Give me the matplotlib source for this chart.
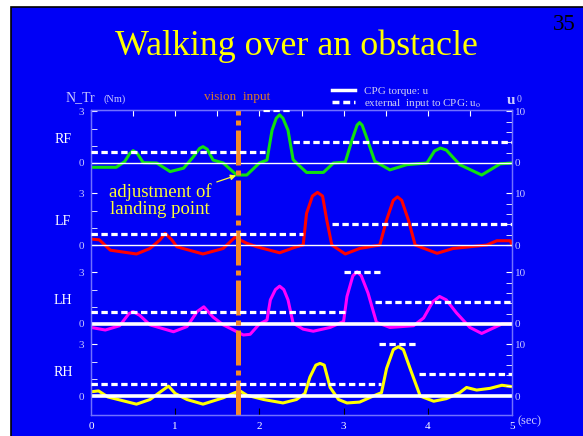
import matplotlib.pyplot as plt
import numpy as np
from matplotlib.patches import Rectangle
from matplotlib.lines import Line2D

plt.rcParams['font.family'] = ['Liberation Serif', 'DejaVu Serif']
plt.rcParams['mathtext.fontset'] = 'stix'

# --- data: N_Tr curves (Nm) vs time (sec) ---
rf_t = [0, 0.3, 0.4, 0.46, 0.5, 0.55, 0.62, 0.78, 0.94, 1.1, 1.21, 1.29, 1.33, 1.38, 1.45, 1.57,
        1.73, 1.85, 2.0, 2.09, 2.15, 2.2, 2.24, 2.28, 2.34, 2.40, 2.44, 2.56, 2.76, 2.88, 3.02, 3.1,
        3.16, 3.19, 3.22, 3.27, 3.37, 3.55, 3.75, 3.99, 4.08, 4.15, 4.22, 4.38, 4.64, 4.86, 5.0]
rf_v = [-0.25, -0.25, 0.08, 0.55, 0.72, 0.55, 0.02, 0, -0.5, -0.3, 0.33, 0.85, 0.95, 0.8, 0.17, 0,
        -0.7, -0.7, 0, 0.17, 1.9, 2.6, 2.8, 2.6, 1.9, 0.2, 0, -0.55, -0.55, 0, 0.05, 1.34,
        2.2, 2.35, 2.2, 1.53, 0.1, -0.4, -0.1, 0, 0.7, 0.87, 0.75, -0.1, -0.7, -0.05, 0]

lf_t = [0, 0.1, 0.23, 0.54, 0.7, 0.82, 0.88, 0.96, 1.02, 1.33, 1.57, 1.71, 1.85, 1.97, 2.24, 2.44,
        2.52, 2.56, 2.63, 2.69, 2.75, 2.8, 2.86, 3.02, 3.19, 3.43, 3.51, 3.59, 3.64, 3.69, 3.77, 3.85,
        4.11, 4.3, 4.7, 4.82, 4.98, 5.0]
lf_v = [0.35, 0.3, -0.3, -0.52, -0.2, 0.3, 0.68, 0.3, -0.1, -0.52, -0.2, 0.45, 0.1, -0.1, -0.45, -0.1,
        0, 1.84, 2.85, 3.06, 2.85, 1.45, 0, -0.52, -0.2, 0, 1.45, 2.6, 2.8, 2.6, 1.45, 0,
        -0.48, -0.2, 0, 0.25, 0.25, 0]

lh_t = [0, 0.17, 0.34, 0.45, 0.5, 0.58, 0.7, 0.98, 1.14, 1.26, 1.34, 1.45, 1.57, 1.81, 1.89, 2.0,
        2.09, 2.13, 2.19, 2.24, 2.29, 2.34, 2.4, 2.52, 2.64, 2.84, 3.0, 3.04, 3.11, 3.16, 3.21, 3.29,
        3.39, 3.55, 3.83, 3.95, 4.06, 4.14, 4.22, 4.34, 4.5, 4.64, 4.88, 5.0]
lh_v = [-0.2, -0.35, -0.1, 0.6, 0.72, 0.5, -0.05, -0.45, -0.15, 0.72, 1.0, 0.4, -0.05, -0.64, -0.6, 0,
        0.23, 1.4, 2.0, 2.2, 2.0, 1.4, 0.05, -0.3, -0.42, -0.2, 0.15, 1.6, 2.8, 3.04, 2.8, 1.8,
        0.1, -0.2, -0.1, 0.35, 1.3, 1.6, 1.4, 0.65, -0.2, -0.55, 0, 0]

rh_t = [0, 0.09, 0.2, 0.54, 0.7, 0.84, 0.92, 1.0, 1.14, 1.33, 1.57, 1.71, 1.77, 1.85, 2.05, 2.28,
        2.44, 2.54, 2.6, 2.67, 2.72, 2.77, 2.84, 2.94, 3.04, 3.19, 3.35, 3.45, 3.51, 3.59, 3.65, 3.71,
        3.79, 3.91, 4.07, 4.22, 4.38, 4.46, 4.58, 4.74, 4.88, 5.0]
rh_v = [0.25, 0.3, -0.05, -0.47, -0.2, 0.3, 0.58, 0.15, -0.2, -0.47, -0.1, 0.2, 0.3, 0.05, -0.2, -0.4,
        -0.2, 0.15, 1.1, 1.8, 1.9, 1.8, 0.5, -0.2, -0.4, -0.35, 0, 0.2, 1.6, 2.7, 2.87, 2.7,
        1.6, 0, -0.3, -0.15, 0.2, 0.5, 0.35, 0.45, 0.63, 0.55]

# external input u0 (right scale): (start, end, level)
rf_u0 = [(0, 2.07, 2.2), (2.04, 2.38, 10.3), (2.4, 5.0, 4.05)]
lf_u0 = [(0, 2.52, 2.15), (2.86, 5.0, 4.1)]
lh_u0 = [(0, 3.02, 2.3), (3.0, 3.43, 10.1), (3.37, 5.0, 4.25)]
rh_u0 = [(0, 3.45, 2.3), (3.42, 3.88, 10.1), (3.9, 5.0, 4.25)]

legs = ['RF', 'LF', 'LH', 'RH']
colors = ['#10e010', '#ff0000', '#ff00ff', '#ffff00']
offsets = [13.55, 8.78, 4.19, 0.0]   # vertical shift of each panel (Nm)
zero_lw = [1.0, 1.0, 2.6, 2.6]
curves = [(rf_t, rf_v), (lf_t, lf_v), (lh_t, lh_v), (rh_t, rh_v)]
inputs = [rf_u0, lf_u0, lh_u0, rh_u0]
vision_t = 1.74
k = 10 / 3   # u0 units per Nm

blue = '#0000f6'
spine_c = '#7070ff'
lab_c = '#c8c8ff'

fig = plt.figure(figsize=(5.83, 4.36), dpi=100)
fig.patch.set_facecolor('white')
fig.add_artist(Rectangle((11 / 583, -0.01), 1.0, 1 - 7 / 436 + 0.01, transform=fig.transFigure,
                         facecolor=blue, edgecolor='black', lw=1.2, zorder=0))

ax = fig.add_axes([91 / 583, 1 - 415 / 436, 421 / 583, 305 / 436])
ax.set_facecolor('none')
ax.set_xlim(0, 5)
ax.set_ylim(-1.10, 16.63)
ax2 = ax.twinx()
ax2.set_ylim(-1.10 * k, 16.63 * k)

for i in range(4):
    t, v = curves[i]
    ax.plot(t, np.array(v) + offsets[i], color=colors[i], lw=2.2, zorder=2)
    ax.axhline(offsets[i], color='white', lw=zero_lw[i], zorder=3)
    for s, e, lev in inputs[i]:
        ax2.hlines(lev + offsets[i] * k, s, e, color='white', lw=2.3,
                   linestyles=(0, (2.0, 1.1)), zorder=3)
    ax.text(-0.333, offsets[i] + 1.35, legs[i], color='white', fontsize=10,
            ha='center', va='center', clip_on=False)

ax.axvline(vision_t, color='#f28a2a', lw=3.6, ls=(0, (7, 1, 1, 1)), zorder=5)

ax.annotate('adjustment of\nlanding point', xy=(vision_t, offsets[0] - 0.7),
            xytext=(0.82, 11.35), color='#ffff33', fontsize=13.5, ha='center', va='center',
            linespacing=1.0,
            arrowprops=dict(arrowstyle='-|>', color='#ffff33', lw=0.9,
                            mutation_scale=8, shrinkA=2, shrinkB=1))

# axes cosmetics
for a in (ax, ax2):
    for sp in a.spines.values():
        sp.set_color(spine_c)
        sp.set_linewidth(0.9)

ax.set_yticks([o + d for o in offsets for d in (3, 0)])
ax.set_yticklabels(['3', '0'] * 4)
ax.set_yticks([o + d for o in offsets for d in (1, 2)], minor=True)
ax.tick_params(axis='y', which='both', direction='in', color='white', length=4,
               labelcolor=lab_c, labelsize=8, pad=5)

ax2.set_yticks([o * k + d for o in offsets for d in (10, 0)])
ax2.set_yticklabels(['10', '0'] * 4)
ax2.set_yticks([o * k + d for o in offsets for d in (2, 4, 6, 8)], minor=True)
ax2.tick_params(axis='y', which='both', direction='in', color='white', length=4,
                labelcolor=lab_c, labelsize=8, pad=2)

ax.set_xticks([0, 1, 2, 3, 4, 5])
ax.set_xticklabels(['0', '1', '2', '3', '4', '5'])
ax.tick_params(axis='x', direction='in', color='black', length=5, labelcolor='white',
               labelsize=8, pad=5)
top = ax.secondary_xaxis('top')
top.set_xticks(np.arange(0, 5.01, 0.5))
top.set_xticklabels([])
top.tick_params(direction='in', color='white', length=4)
top.spines['top'].set_color(spine_c)

ax.text(5.07, -1.10, '(sec)', color=lab_c, fontsize=9, ha='left', va='top',
        transform=ax.transData, clip_on=False)

# header texts
fig.text(296 / 583, 1 - 46 / 436, 'Walking over an obstacle', color='#ffff00', fontsize=25.8,
         ha='center', va='center')
fig.text(564 / 583, 1 - 25 / 436, '35', color='black', fontsize=16.5, ha='center', va='center')
fig.text(66 / 583, 1 - 98 / 436, 'N_Tr', color=lab_c, fontsize=10, va='center')
fig.text(104 / 583, 1 - 99 / 436, '(Nm)', color=lab_c, fontsize=7.5, va='center')
fig.text(237 / 583, 1 - 97 / 436, 'vision  input', color='#d8782c', fontsize=9.5,
         ha='center', va='center')
fig.text(507 / 583, 1 - 100 / 436, 'u', color=lab_c, fontsize=11, fontweight='bold', va='center')
fig.text(517 / 583, 1 - 100 / 436, '0', color=lab_c, fontsize=7, va='center')

handles = [Line2D([], [], color='white', lw=2.5),
           Line2D([], [], color='white', lw=2.5, ls=(0, (2.0, 1.1)))]
fig.legend(handles, ['CPG torque: u', r'external  input to CPG: u$_{\mathrm{o}}$'],
           loc='upper left', bbox_to_anchor=(326 / 583, 1 - 81 / 436), frameon=False,
           fontsize=8, handlelength=2.1, handletextpad=0.8, labelspacing=0.05,
           labelcolor='#d0d0f0', borderpad=0)

plt.savefig('out.png', dpi=100, facecolor=fig.get_facecolor())
